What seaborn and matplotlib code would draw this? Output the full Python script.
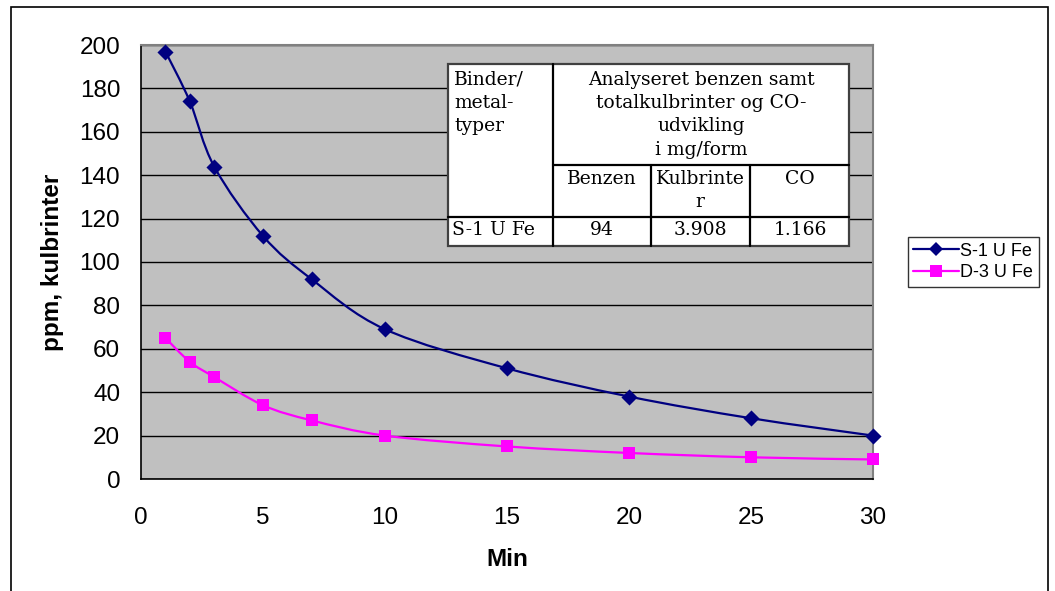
import numpy as np
import pandas as pd
import matplotlib
matplotlib.use("Agg")
import matplotlib.pyplot as plt
import seaborn as sns
from matplotlib.path import Path
from matplotlib.patches import PathPatch, Rectangle
from matplotlib.lines import Line2D

# ---------------- data ----------------
minutes = [1, 2, 3, 5, 7, 10, 15, 20, 25, 30]
s1_values = [197, 174, 144, 112, 92, 69, 51, 38, 28, 20]
d3_values = [65, 54, 47, 34, 27, 20, 15, 12, 10, 9]
series_names = ["S-1 U Fe", "D-3 U Fe"]
x_ticks = [0, 5, 10, 15, 20, 25, 30]
y_ticks = [0, 20, 40, 60, 80, 100, 120, 140, 160, 180, 200]
x_label = "Min"
y_label = "ppm, kulbrinter"

table_col0_header = "Binder/\nmetal-\ntyper"
table_group_header = "Analyseret benzen samt\ntotalkulbrinter og CO-\nudvikling\ni mg/form"
table_sub_headers = ["Benzen", "Kulbrinte\nr", "CO"]
table_row_label = "S-1 U Fe"
table_row_values = ["94", "3.908", "1.166"]

# ---------------- style ----------------
sns.set_style("white")
plt.rcParams["font.family"] = ["Liberation Sans", "DejaVu Sans"]
plt.rcParams["text.color"] = "black"
plt.rcParams["axes.labelcolor"] = "black"
plt.rcParams["xtick.color"] = "black"
plt.rcParams["ytick.color"] = "black"

W, H = 1055, 591
fig = plt.figure(figsize=(W / 100, H / 100), dpi=100)
fig.patch.set_facecolor("white")


def fx(x):
    return x / W


def fy(y):
    return 1 - y / H


ax = fig.add_axes([fx(141), fy(479), (873 - 141) / W, (479 - 45) / H])
ax.set_facecolor("#C0C0C0")

colors = {"S-1 U Fe": "#000080", "D-3 U Fe": "#FF00FF"}
markers = {"S-1 U Fe": "D", "D-3 U Fe": "s"}
msizes = {"S-1 U Fe": 8.2, "D-3 U Fe": 9}

df = pd.DataFrame({
    "Min": minutes * 2,
    "ppm": s1_values + d3_values,
    "serie": [series_names[0]] * len(minutes) + [series_names[1]] * len(minutes),
})


def smooth_path(xs, ys):
    pts = np.column_stack([xs, ys]).astype(float)
    n = len(pts)
    verts = [pts[0]]
    codes = [Path.MOVETO]
    for i in range(n - 1):
        p0 = pts[i - 1] if i > 0 else pts[i]
        p1 = pts[i]
        p2 = pts[i + 1]
        p3 = pts[i + 2] if i + 2 < n else pts[i + 1]
        c1 = p1 + (p2 - p0) / 6.0
        c2 = p2 - (p3 - p1) / 6.0
        verts += [c1, c2, p2]
        codes += [Path.CURVE4] * 3
    return Path(verts, codes)


for name in series_names:
    sub = df[df["serie"] == name]
    patch = PathPatch(smooth_path(sub["Min"].values, sub["ppm"].values),
                      facecolor="none", edgecolor=colors[name], lw=1.6,
                      transform=ax.transData, zorder=3)
    ax.add_patch(patch)
    sns.scatterplot(data=sub, x="Min", y="ppm", ax=ax, marker=markers[name],
                    color=colors[name], s=msizes[name] ** 2,
                    edgecolor=colors[name], linewidth=0, zorder=4, legend=False,
                    clip_on=False)

ax.set_xlim(0, 30)
ax.set_ylim(0, 200)
ax.set_xticks(x_ticks)
ax.set_yticks(y_ticks)
ax.yaxis.grid(True, color="black", lw=1)
ax.xaxis.grid(False)
ax.set_axisbelow(True)

for side in ["top", "right"]:
    ax.spines[side].set_color("#808080")
    ax.spines[side].set_linewidth(1.5)
for side in ["left", "bottom"]:
    ax.spines[side].set_color("black")
    ax.spines[side].set_linewidth(1.2)

ax.tick_params(axis="both", direction="out", length=6, width=1, color="black",
               labelsize=17.5, labelcolor="black")
ax.tick_params(axis="x", pad=14)
ax.tick_params(axis="y", pad=9)

ax.set_xlabel(x_label, fontsize=17.5, fontweight="bold", labelpad=14, color="black")
ax.set_ylabel(y_label, fontsize=17.5, fontweight="bold", labelpad=11, color="black")

# legend
handles = [Line2D([0], [0], color=colors[n], lw=1.6, marker=markers[n],
                  markersize=(7.0 if n == series_names[0] else 9),
                  markeredgewidth=0) for n in series_names]
leg = fig.legend(handles, series_names, loc="center left",
                 bbox_to_anchor=(fx(908), fy(262)), bbox_transform=fig.transFigure,
                 fontsize=13, frameon=True, fancybox=False, handlelength=2.5,
                 borderpad=0.3, labelspacing=0.25, handletextpad=0.1,
                 borderaxespad=0)
leg.get_frame().set_edgecolor("black")
leg.get_frame().set_linewidth(1)

# outer chart border
fig.add_artist(Rectangle((fx(11), -0.02), (1048 - 11) / W, fy(7) + 0.02,
                         transform=fig.transFigure, facecolor="none",
                         edgecolor="black", lw=1.2, zorder=0))

# ---------------- table ----------------
tx0, tx1, ty0, ty1 = 448, 849, 64, 246
fig.add_artist(Rectangle((fx(tx0), fy(ty1)), (tx1 - tx0) / W, (ty1 - ty0) / H,
                         transform=fig.transFigure, facecolor="white",
                         edgecolor="#404040", lw=1.6, zorder=5))


def hline(x0, x1, y):
    fig.add_artist(Line2D([fx(x0), fx(x1)], [fy(y), fy(y)], color="black",
                          lw=1.6, transform=fig.transFigure, zorder=6))


def vline(x, y0, y1):
    fig.add_artist(Line2D([fx(x), fx(x)], [fy(y0), fy(y1)], color="black",
                          lw=1.6, transform=fig.transFigure, zorder=6))


vline(553, ty0, ty1)
hline(553, tx1, 165)
hline(tx0, tx1, 217)
vline(651, 165, ty1)
vline(750, 165, ty1)

tfont = dict(family=["DejaVu Serif"], fontsize=13.5, color="black", zorder=7,
             linespacing=1.37)
fig.text(fx(454), fy(71), table_col0_header, ha="left", va="top", **tfont)
fig.text(fx(701), fy(71), table_group_header, ha="center", va="top", **tfont)
for cx, t in zip([602, 700, 800], table_sub_headers):
    fig.text(fx(cx), fy(170), t, ha="center", va="top", **tfont)
fig.text(fx(452), fy(230), table_row_label, ha="left", va="center", **tfont)
for cx, t in zip([602, 700, 800], table_row_values):
    fig.text(fx(cx), fy(230), t, ha="center", va="center", **tfont)

fig.savefig("out.png", dpi=100)
